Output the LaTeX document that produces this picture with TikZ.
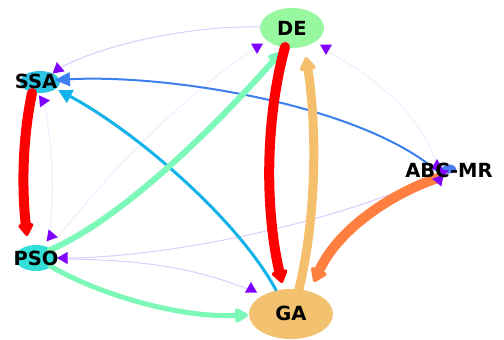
\documentclass[tikz,border=0pt]{standalone}
\usepackage{fontspec}
\setmainfont{DejaVu Sans}
\usetikzlibrary{arrows.meta,calc,shapes.geometric}
\definecolor{cSSA}{HTML}{2CC3E4}
\definecolor{cDE}{HTML}{98F8A0}
\definecolor{cGA}{HTML}{F2C270}
\definecolor{cPSO}{HTML}{32E0D8}
\definecolor{cABC}{HTML}{4A7CF0}
\definecolor{eRed}{HTML}{FF0000}
\definecolor{eTan}{HTML}{F5C06E}
\definecolor{eOrange}{HTML}{FF7F40}
\definecolor{eBlue}{HTML}{3B80EE}
\definecolor{eCyan}{HTML}{12B3EA}
\definecolor{eGreen}{HTML}{7CF9B8}
\definecolor{eLav}{HTML}{DCCCFF}
\definecolor{eFaint}{HTML}{F1ECFF}
\definecolor{tipPurple}{HTML}{7F00FF}
\begin{document}
\begin{tikzpicture}[x=1pt,y=-1pt,
  ell/.style={ellipse,draw=none,inner sep=0pt},
  lab/.style={font=\fontsize{19.5}{20}\selectfont\bfseries,inner sep=0pt,text=black},
  edge/.style={line cap=round},
  ptri/.style={regular polygon,regular polygon sides=3,fill=tipPurple,draw=none,inner sep=0pt,minimum size=14pt}
]
\useasboundingbox (0,0) rectangle (504,340);
\fill[white] (0,0) rectangle (504,340);

% nodes
\node[ell,fill=cSSA,minimum width=40pt,minimum height=22pt] (SSA) at (40,82) {};
\node[ell,fill=cDE,minimum width=64pt,minimum height=40pt] (DE) at (292,28) {};
\node[ell,fill=cGA,minimum width=84pt,minimum height=50pt] (GA) at (291,314) {};
\node[ell,fill=cPSO,minimum width=42pt,minimum height=26pt] (PSO) at (36,258) {};
\node[ell,fill=cABC,minimum width=14pt,minimum height=9pt] (ABC) at (449,169) {};

% faint edges
\draw[eLav,line width=1pt] ($(DE)+(-30,-1)$) .. controls +(-72,-2) and +(44,-25) .. ($(SSA)+(16,-12)$);
\draw[eFaint,line width=1pt] ($(PSO)+(12,-16)$) .. controls +(8,-50) and +(8,50) .. ($(SSA)+(4,16)$);
\draw[eFaint,line width=1pt] ($(PSO)+(20,-18)$) .. controls +(54,-70) and +(-66,42) .. ($(DE)+(-36,20)$);
\draw[eFaint,line width=1pt] ($(ABC)+(-13,-6)$) .. controls +(-15,-50) and +(40,20) .. ($(DE)+(36,24)$);
\draw[eLav,line width=1pt] ($(ABC)+(-18,8)$) .. controls +(-101,48) and +(94,0) .. ($(PSO)+(30,0)$);
\draw[eLav,line width=1pt] ($(PSO)+(32,1)$) .. controls +(82,1) and +(-50,-20) .. ($(GA)+(-41,-24)$);

% coloured edges
\draw[edge,eBlue,line width=2pt,-{Triangle[length=15pt,width=14pt]}]
  ($(ABC)+(-12,2)$) .. controls +(-77,-66) and +(115,-6) .. ($(SSA)+(15,-2)$);
\draw[edge,eCyan,line width=3pt,-{Triangle[length=14pt,width=14pt]}]
  ($(GA)+(-15,-24)$) .. controls +(-41,-75) and +(72,38) .. ($(SSA)+(18,8)$);
\draw[edge,eGreen,line width=6pt,-{Triangle[length=15pt,width=16pt,round]}]
  ($(PSO)+(14,-8)$) .. controls +(80,-35) and +(-51,58) .. ($(DE)+(-11,24)$);
\draw[edge,eGreen,line width=5pt,-{Triangle[length=15pt,width=16pt,round]}]
  ($(PSO)+(14,8)$) .. controls +(50,29) and +(-68,3) .. ($(GA)+(-43,1)$);
\draw[edge,eRed,line width=10pt,-{Triangle[length=14pt,width=17pt,round]}]
  ($(SSA)+(-8,11)$) .. controls +(-10,48) and +(-5,-46) .. ($(PSO)+(-9,-22)$);
\draw[edge,eRed,line width=10pt,-{Triangle[length=14pt,width=18pt,round]}]
  ($(DE)+(-7,19)$) .. controls +(-20,73) and +(-17,-73) .. ($(GA)+(-9,-31)$);
\draw[edge,eTan,line width=9pt,-{Triangle[length=15pt,width=18pt,round]}]
  ($(GA)+(8,-25)$) .. controls +(19,-79) and +(10,63) .. ($(DE)+(14,29)$);
\draw[edge,eOrange,line width=10pt,-{Triangle[length=15pt,width=19pt,round]}]
  ($(ABC)+(-11,9)$) .. controls +(-38,12) and +(26,-57) .. ($(GA)+(23,-32)$);

% purple arrow heads of the faint edges
\node[ptri,rotate=10] (t1) at (58,69) {};
\node[ptri,rotate=35] (t2) at (43,101) {};
\node[ptri,rotate=180] (t3) at (257,47) {};
\node[ptri,rotate=180] (t4) at (326,48) {};
\node[ptri,rotate=0] (t5) at (437,166) {};
\node[ptri,rotate=200] (t6) at (439,180) {};
\node[ptri,rotate=-70] (t7) at (442,173) {};
\node[ptri,rotate=-100] (t8) at (51,236) {};
\node[ptri,rotate=90] (t9) at (64,258) {};
\node[ptri,rotate=0] (t10) at (251,289) {};

% labels
\node[lab] (SSAt) at ($(SSA)+(-4,-1)$) {SSA};
\node[lab] (DEt) at ($(DE)+(0,0)$) {DE};
\node[lab] (GAt) at ($(GA)+(0,-1)$) {GA};
\node[lab] (PSOt) at ($(PSO)+(0,0)$) {PSO};
\node[lab] (ABCt) at ($(ABC)+(0,1)$) {ABC-MR};
\end{tikzpicture}
\end{document}
